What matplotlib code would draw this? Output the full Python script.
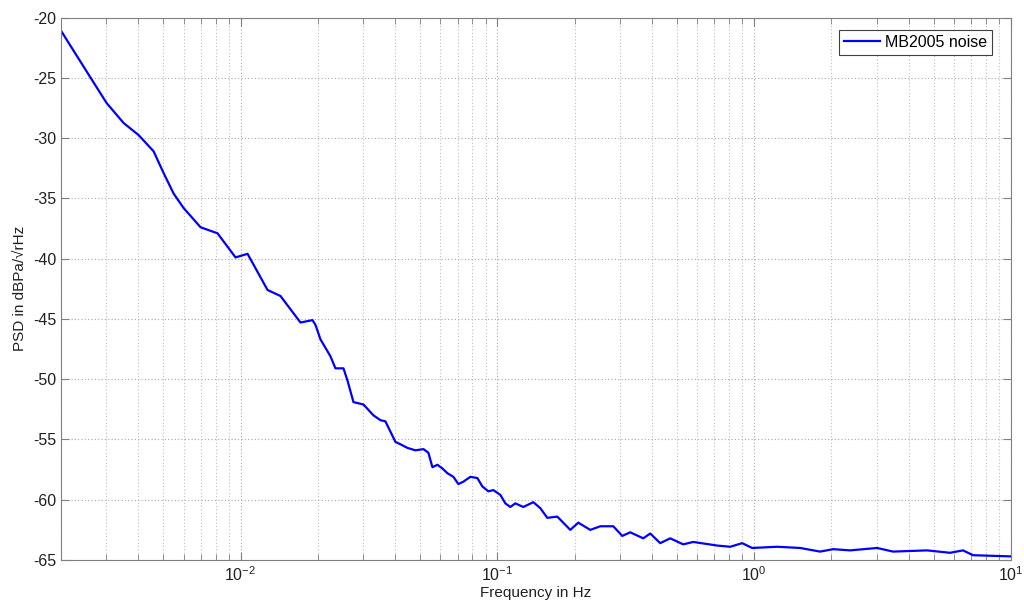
import matplotlib
matplotlib.use("Agg")
import matplotlib.pyplot as plt
from matplotlib.ticker import LogLocator, FixedLocator

plt.rcParams['font.family'] = ['Liberation Sans', 'DejaVu Sans']
plt.rcParams['axes.unicode_minus'] = False

# frequency (Hz) and PSD (dBPa/sqrt(Hz))
freq = [0.002, 0.002608, 0.003011, 0.003505, 0.004009, 0.004587, 0.005017,
        0.005487, 0.006001, 0.006990, 0.008137, 0.009561, 0.010648, 0.012738,
        0.014306, 0.017119, 0.019064, 0.019580, 0.020478, 0.022393, 0.023416,
        0.025165, 0.026079, 0.027523, 0.030109, 0.032924, 0.035055, 0.036664,
        0.040093, 0.04194, 0.04465, 0.04797, 0.05154, 0.05388, 0.05586,
        0.05842, 0.06109, 0.06389, 0.06743, 0.07051, 0.07373, 0.07851,
        0.08361, 0.08743, 0.09226, 0.09647, 0.10273, 0.10742, 0.11233,
        0.11749, 0.12621, 0.13806, 0.14700, 0.15648, 0.17118, 0.19233,
        0.20661, 0.23007, 0.25165, 0.28276, 0.30647, 0.32924, 0.36993,
        0.39384, 0.43072, 0.47105, 0.52932, 0.57903, 0.71779, 0.80651,
        0.89805, 0.98220, 1.2289, 1.5101, 1.8063, 2.0295, 2.3634, 3.0104,
        3.4743, 4.7115, 5.7903, 6.5055, 7.1145, 10.0]
psd = [-21.1, -25.0, -27.1, -28.75, -29.75, -31.1, -32.9,
       -34.6, -35.8, -37.4, -37.9, -39.9, -39.6, -42.6,
       -43.1, -45.3, -45.1, -45.5, -46.7, -48.1, -49.1,
       -49.1, -50.1, -51.9, -52.1, -53.0, -53.4, -53.5,
       -55.2, -55.4, -55.7, -55.9, -55.8, -56.1, -57.3,
       -57.1, -57.4, -57.8, -58.1, -58.7, -58.5, -58.1,
       -58.2, -58.9, -59.3, -59.2, -59.6, -60.3, -60.6,
       -60.3, -60.6, -60.2, -60.7, -61.5, -61.4, -62.5,
       -61.9, -62.5, -62.2, -62.2, -63.0, -62.7, -63.2,
       -62.8, -63.6, -63.2, -63.7, -63.5, -63.8, -63.9,
       -63.6, -64.0, -63.9, -64.0, -64.3, -64.1, -64.2, -64.0,
       -64.3, -64.2, -64.4, -64.2, -64.6, -64.7]
yticks = [-65, -60, -55, -50, -45, -40, -35, -30, -25, -20]

fig = plt.figure(figsize=(10.24, 6.08), dpi=100)
ax = fig.add_axes([0.0596, 0.0789, 0.9277, 0.8923])

ax.semilogx(freq, psd, color='#0000ff', lw=1.6, label='MB2005 noise')

ax.set_xlim(0.002, 10)
ax.set_ylim(-65, -20)
ax.yaxis.set_major_locator(FixedLocator(yticks))
ax.xaxis.set_major_locator(LogLocator(base=10))
ax.xaxis.set_minor_locator(LogLocator(base=10, subs=range(2, 10)))

ax.grid(True, which='major', linestyle=(0, (1, 2)), color='#a8a8a8', lw=0.8)
ax.grid(True, which='minor', axis='x', linestyle=(0, (1, 2)), color='#c0c0c0', lw=0.8)

for s in ax.spines.values():
  s.set_color('#808080')
ax.tick_params(which='both', direction='in', top=True, right=True,
               colors='#808080', labelcolor='#202020', labelsize=11.5)
ax.tick_params(which='major', length=6)
ax.tick_params(which='minor', length=4)

ax.set_xlabel("Frequency in Hz", fontsize=11, color='#202020', labelpad=2)
ax.set_ylabel("PSD in dBPa/\u221arHz", fontsize=11, color='#202020', labelpad=4)

leg = ax.legend(loc='upper right', bbox_to_anchor=(0.980, 0.977),
                fontsize=11.5, fancybox=False, framealpha=1,
                borderaxespad=0, handlelength=2.3, handletextpad=0.3,
                borderpad=0.3)
leg.get_frame().set_edgecolor('#404040')
leg.get_frame().set_linewidth(0.8)

fig.savefig("out.png", dpi=100)
